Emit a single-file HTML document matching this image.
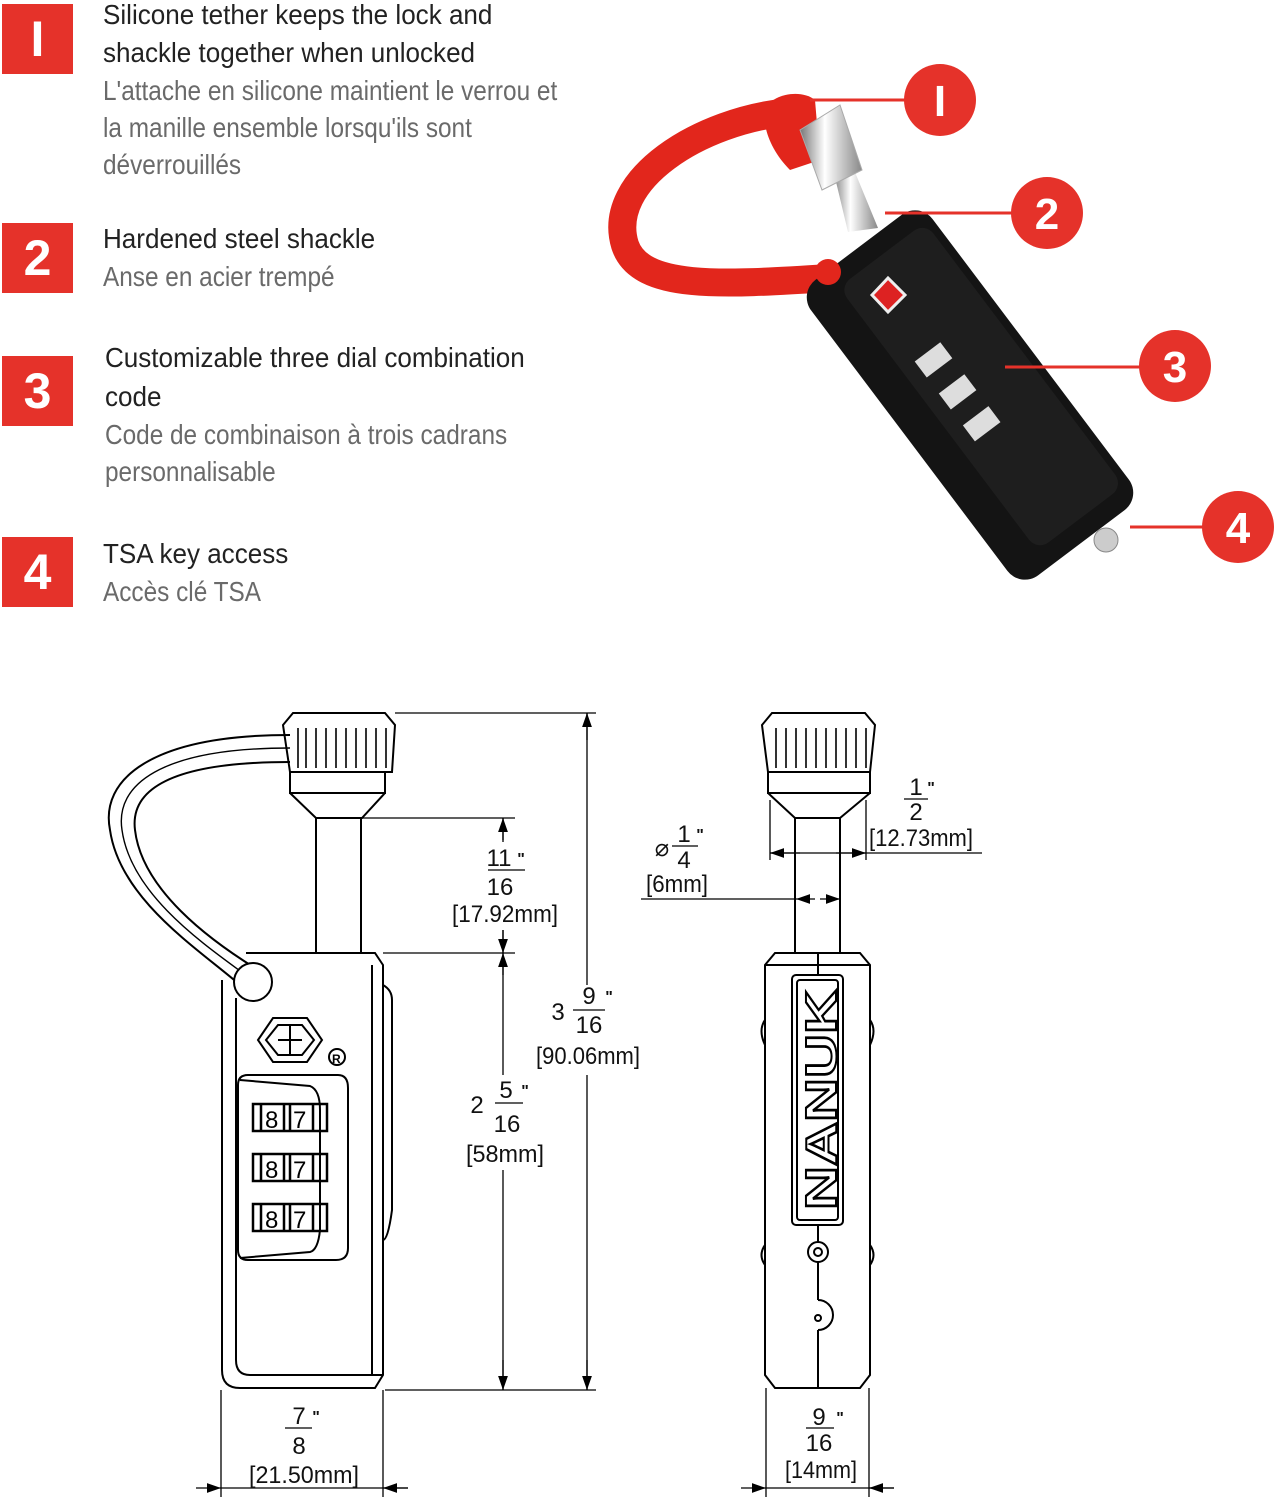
<!DOCTYPE html>
<html><head><meta charset="utf-8">
<style>
html,body{margin:0;padding:0;background:#fff;}
body{width:1278px;height:1500px;position:relative;overflow:hidden;font-family:"Liberation Sans",sans-serif;}
.b{position:absolute;left:2px;width:71px;height:70px;background:#e5322a;color:#fff;font:bold 50px/70px "Liberation Sans",sans-serif;text-align:center;}
.l{position:absolute;left:103px;font-size:28px;line-height:37px;color:#222;white-space:nowrap;transform-origin:0 0;transform:scaleX(.93);}
.f{color:#6a6a6a;transform:scaleX(.87);}
svg{position:absolute;left:0;top:0;}
</style></head><body>
<div class="b" style="top:4px">I</div>
<div class="b" style="top:223px">2</div>
<div class="b" style="top:356px">3</div>
<div class="b" style="top:537px">4</div>
<div class="l" style="top:-4px">Silicone tether keeps the lock and</div>
<div class="l" style="top:34px">shackle together when unlocked</div>
<div class="l f" style="top:72px">L'attache en silicone maintient le verrou et</div>
<div class="l f" style="top:109px">la manille ensemble lorsqu'ils sont</div>
<div class="l f" style="top:146px">déverrouillés</div>
<div class="l" style="top:220px">Hardened steel shackle</div>
<div class="l f" style="top:258px">Anse en acier trempé</div>
<div class="l" style="top:339px;left:105px">Customizable three dial combination</div>
<div class="l" style="top:378px;left:105px">code</div>
<div class="l f" style="top:416px;left:105px">Code de combinaison à trois cadrans</div>
<div class="l f" style="top:453px;left:105px">personnalisable</div>
<div class="l" style="top:535px">TSA key access</div>
<div class="l f" style="top:573px">Accès clé TSA</div>

<svg width="1278" height="1500" viewBox="0 0 1278 1500">
<defs>
<linearGradient id="chr" x1="0" x2="1"><stop offset="0" stop-color="#777"/><stop offset=".4" stop-color="#fff"/><stop offset="1" stop-color="#888"/></linearGradient>
<marker id="ar" viewBox="0 0 10 10" refX="10" refY="5" markerWidth="14" markerHeight="14" markerUnits="userSpaceOnUse" orient="auto"><path d="M0,1.5L10,5L0,8.5z" fill="#000"/></marker>
</defs>
<!-- photo -->
<path d="M790,112 C700,120 605,180 625,245 C640,290 720,285 830,278" fill="none" stroke="#e2261c" stroke-width="28" stroke-linecap="round"/>
<path d="M765,110 C770,95 800,88 815,100 L820,160 L790,170 C770,150 762,125 765,110z" fill="#e2261c"/>
<polygon points="848,232 878,228 850,160 832,165" fill="url(#chr)"/>
<path d="M800,130 L840,105 L862,170 L822,190z" fill="url(#chr)" stroke="#aaa"/>
<g transform="translate(970,395) rotate(53)">
<rect x="-185" y="-76" width="370" height="152" rx="22" fill="#141414"/>
<rect x="-165" y="-68" width="330" height="108" rx="14" fill="#1e1e1e"/>
<rect x="-60" y="-8" width="20" height="32" fill="#ddd"/><rect x="-20" y="-8" width="20" height="32" fill="#ddd"/><rect x="20" y="-8" width="20" height="32" fill="#ddd"/>
</g>
<circle cx="828" cy="272" r="13" fill="#e2261c"/>
<path d="M872,295 L888,278 L905,295 L888,312z" fill="#d22" stroke="#eee" stroke-width="3"/>
<circle cx="1106" cy="540" r="12" fill="#ccc" stroke="#888"/>
<g stroke="#e5322a" stroke-width="3"><line x1="810" y1="100" x2="906" y2="100"/><line x1="885" y1="213" x2="1012" y2="213"/><line x1="1005" y1="367" x2="1140" y2="367"/><line x1="1130" y1="527" x2="1203" y2="527"/></g>
<g fill="#e5322a"><circle cx="940" cy="100" r="36"/><circle cx="1047" cy="213" r="36"/><circle cx="1175" cy="366" r="36"/><circle cx="1238" cy="527" r="36"/></g>
<g fill="#fff" font-family="Liberation Sans" font-weight="bold" font-size="44" text-anchor="middle"><text x="940" y="116">I</text><text x="1047" y="229">2</text><text x="1175" y="382">3</text><text x="1238" y="543">4</text></g>

<!-- left drawing -->
<g fill="none" stroke="#000" stroke-width="2">
<path d="M293,713 L385,713 L395,725 L392,772 L290,772 L283,725z"/>
<path d="M290,772 L290,793 L385,793 L385,772 M290,793 L316,818 L362,818 L385,793"/>
<g stroke-width="1.6"><path d="M298,728v40M306,728v40M316,728v40M326,728v40M336,728v40M346,728v40M356,728v40M366,728v40M376,728v40M386,728v40"/></g>
<path d="M316,818V953M361,818V953"/>
<path d="M290,735 C150,735 100,780 110,830 C120,900 200,950 240,985"/>
<path d="M290,748 C160,748 115,785 122,830 C131,895 205,945 247,976" stroke-width="1.4"/>
<path d="M290,762 C170,762 130,790 135,830 C142,890 210,940 255,968"/>
<circle cx="253" cy="982" r="19" fill="#fff"/>
<path d="M246,953 L375,953 L383,965 L383,1375 L375,1388 L240,1388 Q222,1388 222,1370 L222,980"/>
<path d="M236,998 L236,1360 Q236,1375 250,1375 L383,1375 M372,965 L372,1375"/>
<path d="M383,985 Q392,990 392,1000 L392,1210 Q388,1240 383,1240"/>
<path d="M258,1040 L273,1018 L307,1018 L322,1040 L307,1062 L273,1062z M266,1040 L278,1025 L302,1025 L314,1040 L302,1055 L278,1055z M290,1025 L290,1055 M278,1040 L302,1040"/>
<circle cx="337" cy="1057" r="8"/>
<path d="M248,1075 L338,1075 Q348,1075 348,1088 L348,1248 Q348,1260 336,1260 L248,1260 Q238,1260 238,1250 L238,1085 Q238,1075 248,1075z"/>
<path d="M240,1080 L310,1086 Q320,1090 320,1110 L320,1230 Q318,1250 310,1252 L240,1258"/>
<g stroke-width="2.5"><rect x="253" y="1104" width="74" height="27"/><rect x="253" y="1154" width="74" height="27"/><rect x="253" y="1204" width="74" height="27"/>
<path d="M261,1104v27M284,1104v27M290,1104v27M313,1104v27M261,1154v27M284,1154v27M290,1154v27M313,1154v27M261,1204v27M284,1204v27M290,1204v27M313,1204v27"/></g>
</g>
<g font-family="Liberation Sans" font-size="24"><text x="265" y="1128">8</text><text x="293" y="1128">7</text><text x="265" y="1178">8</text><text x="293" y="1178">7</text><text x="265" y="1228">8</text><text x="293" y="1228">7</text><text x="332" y="1063" font-size="12" font-weight="bold">R</text></g>

<!-- left dims -->
<g stroke="#000" stroke-width="1.3" fill="none">
<path d="M395,713H596M362,818H515M383,953H515M385,1390H596"/>
<line x1="587" y1="740" x2="587" y2="713" marker-end="url(#ar)"/><line x1="587" y1="1360" x2="587" y2="1390" marker-end="url(#ar)"/>
<line x1="587" y1="713" x2="587" y2="985"/><line x1="587" y1="1075" x2="587" y2="1390"/>
<line x1="503" y1="840" x2="503" y2="818" marker-end="url(#ar)"/><line x1="503" y1="930" x2="503" y2="953" marker-end="url(#ar)"/>
<line x1="503" y1="818" x2="503" y2="842"/><line x1="503" y1="930" x2="503" y2="953"/>
<line x1="503" y1="975" x2="503" y2="953" marker-end="url(#ar)"/><line x1="503" y1="1360" x2="503" y2="1390" marker-end="url(#ar)"/>
<line x1="503" y1="953" x2="503" y2="1075"/><line x1="503" y1="1170" x2="503" y2="1390"/>
<path d="M221,1390V1497M383,1390V1497"/>
<line x1="196" y1="1488" x2="221" y2="1488" marker-end="url(#ar)"/><line x1="408" y1="1488" x2="383" y2="1488" marker-end="url(#ar)"/><line x1="221" y1="1488" x2="408" y2="1488"/>
<path d="M488,870H525M573,1010H605M495,1103H523M285,1428H312"/>
</g>
<g font-size="24" font-family="Liberation Sans" text-anchor="middle" fill="#111">
<text x="499" y="866">11</text><text x="521" y="864" font-size="16" font-weight="bold">"</text><text x="500" y="895">16</text><text x="505" y="922" textLength="106" lengthAdjust="spacingAndGlyphs">[17.92mm]</text>
<text x="558" y="1020">3</text><text x="589" y="1004">9</text><text x="609" y="1002" font-size="16" font-weight="bold">"</text><text x="589" y="1033">16</text><text x="588" y="1064" textLength="104" lengthAdjust="spacingAndGlyphs">[90.06mm]</text>
<text x="477" y="1113">2</text><text x="506" y="1098">5</text><text x="525" y="1096" font-size="16" font-weight="bold">"</text><text x="507" y="1132">16</text><text x="505" y="1162" textLength="78" lengthAdjust="spacingAndGlyphs">[58mm]</text>
<text x="299" y="1424">7</text><text x="316" y="1422" font-size="16" font-weight="bold">"</text><text x="299" y="1454">8</text><text x="304" y="1483" textLength="110" lengthAdjust="spacingAndGlyphs">[21.50mm]</text>
</g>

<!-- right drawing -->
<g fill="none" stroke="#000" stroke-width="2">
<path d="M772,713 L865,713 L875,725 L870,772 L768,772 L762,725z"/>
<path d="M768,772 L768,793 L870,793 L870,772 M768,793 L795,818 L840,818 L870,793"/>
<g stroke-width="1.6"><path d="M776,728v40M786,728v40M796,728v40M806,728v40M816,728v40M826,728v40M836,728v40M846,728v40M856,728v40M866,728v40"/></g>
<path d="M795,818V953M840,818V953"/>
<path d="M775,953 L860,953 L870,965 L870,1375 L860,1388 L775,1388 L765,1375 L765,965z M765,965H870"/>
<path d="M818,953V975M818,1225V1242M818,1262V1300M818,1330V1388"/>
<rect x="792" y="975" width="51" height="250" rx="4"/><rect x="797" y="980" width="41" height="240" rx="3"/>
<circle cx="818" cy="1252" r="10"/><circle cx="818" cy="1252" r="4"/>
<path d="M818,1300 A15,15 0 0 1 818,1330"/><circle cx="818" cy="1318" r="3"/>
<path d="M765,1020 Q758,1030 765,1045M870,1020 Q877,1030 870,1045M765,1245 Q758,1255 765,1265M870,1245 Q877,1255 870,1265"/>
</g>
<text transform="translate(836,1100) rotate(-90)" text-anchor="middle" font-family="Liberation Sans" font-weight="bold" font-size="44" fill="#fff" stroke="#000" stroke-width="2" textLength="220" lengthAdjust="spacingAndGlyphs">NANUK</text>
<g stroke="#000" stroke-width="1.3" fill="none">
<path d="M770,800V860M866,800V860"/>
<line x1="800" y1="853" x2="770" y2="853" marker-end="url(#ar)"/><line x1="836" y1="853" x2="866" y2="853" marker-end="url(#ar)"/><line x1="770" y1="853" x2="982" y2="853"/>
<line x1="641" y1="899" x2="795" y2="899"/><line x1="815" y1="899" x2="796" y2="899" marker-end="url(#ar)"/><line x1="820" y1="899" x2="840" y2="899" marker-end="url(#ar)"/>
<path d="M766,1388V1497M869,1388V1497"/>
<line x1="741" y1="1488" x2="766" y2="1488" marker-end="url(#ar)"/><line x1="894" y1="1488" x2="869" y2="1488" marker-end="url(#ar)"/><line x1="766" y1="1488" x2="894" y2="1488"/>
<path d="M904,799H928M672,846H698M806,1428H834"/>
</g>
<g font-size="24" font-family="Liberation Sans" text-anchor="middle" fill="#111">
<text x="916" y="795">1</text><text x="931" y="793" font-size="16" font-weight="bold">"</text><text x="916" y="820">2</text><text x="921" y="846" textLength="104" lengthAdjust="spacingAndGlyphs">[12.73mm]</text>
<text x="662" y="856">⌀</text><text x="684" y="842">1</text><text x="700" y="840" font-size="16" font-weight="bold">"</text><text x="684" y="868">4</text><text x="677" y="892" textLength="62" lengthAdjust="spacingAndGlyphs">[6mm]</text>
<text x="819" y="1425">9</text><text x="840" y="1423" font-size="16" font-weight="bold">"</text><text x="819" y="1451">16</text><text x="821" y="1478" textLength="72" lengthAdjust="spacingAndGlyphs">[14mm]</text>
</g>
</svg>
</body></html>
